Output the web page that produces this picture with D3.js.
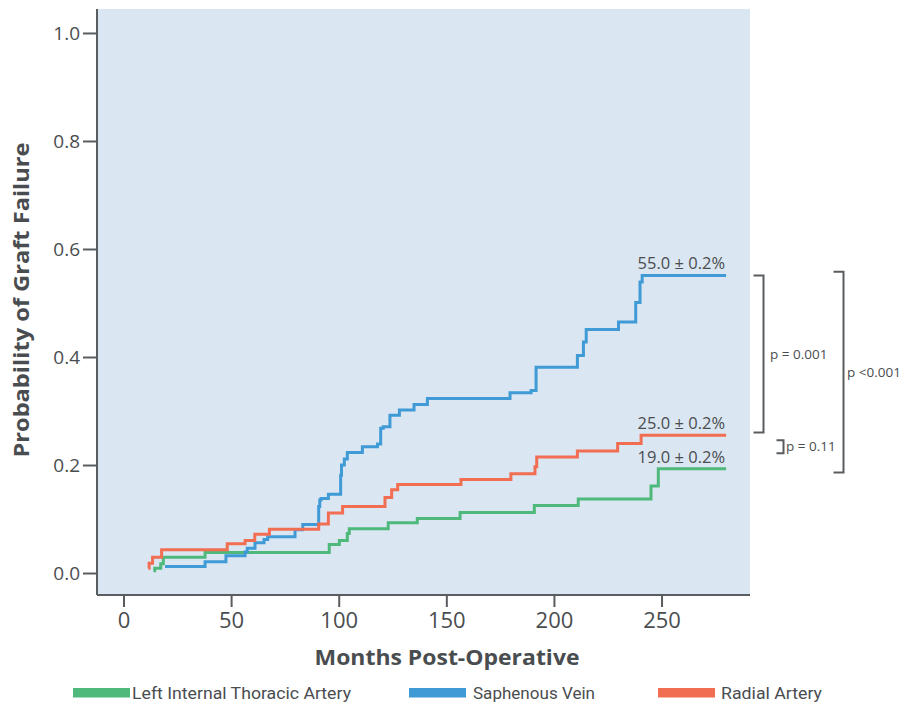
<!DOCTYPE html>
<html>
<head>
<meta charset="utf-8">
<script src="https://cdn.jsdelivr.net/npm/d3@7"></script>
<style>
  html, body { margin: 0; padding: 0; background: #ffffff; }
  svg { display: block; }
</style>
</head>
<body>
<svg id="chart" width="913" height="705"></svg>
<script>
// ---------- DATA ----------
const seriesNames = ["Left Internal Thoracic Artery", "Saphenous Vein", "Radial Artery"];
const seriesColors = ["#4fb97c", "#3f9ad6", "#f26e52"];

// step-after points [month, probability]
const litaPoints = [
  [13.9, 0.004], [14.5, 0.009], [17.3, 0.017], [18.5, 0.029], [37.9, 0.038],
  [95.6, 0.053], [100.3, 0.060], [104.0, 0.073], [104.9, 0.082], [123.0, 0.093],
  [136.5, 0.101], [156.4, 0.112], [190.9, 0.125], [211.3, 0.137], [245.1, 0.161],
  [248.5, 0.193], [280.0, 0.193]
];
const svPoints = [
  [19.3, 0.012], [37.9, 0.021], [47.6, 0.032], [56.5, 0.039], [57.5, 0.046],
  [61.1, 0.056], [65.3, 0.062], [67.0, 0.067], [79.7, 0.080], [83.3, 0.090],
  [90.7, 0.123], [91.2, 0.135], [91.8, 0.138], [95.2, 0.146], [100.9, 0.181],
  [101.3, 0.200], [102.6, 0.211], [104.0, 0.223], [111.0, 0.234], [118.0, 0.239],
  [119.5, 0.268], [120.7, 0.271], [123.8, 0.292], [128.2, 0.302], [135.0, 0.312],
  [141.2, 0.323], [179.6, 0.334], [189.4, 0.338], [191.7, 0.381], [210.9, 0.403],
  [213.7, 0.428], [215.0, 0.451], [230.0, 0.465], [238.0, 0.501], [240.0, 0.539],
  [241.0, 0.551], [280.0, 0.551]
];
const raPoints = [
  [11.5, 0.009], [11.9, 0.018], [13.5, 0.029], [17.7, 0.043], [48.2, 0.054],
  [56.5, 0.060], [61.0, 0.072], [67.8, 0.081], [90.7, 0.091], [95.2, 0.111],
  [101.8, 0.123], [121.5, 0.140], [124.6, 0.154], [127.4, 0.164], [156.8, 0.173],
  [180.0, 0.184], [191.2, 0.197], [192.0, 0.215], [210.9, 0.226], [229.6, 0.240],
  [240.5, 0.255], [280.0, 0.255]
];

const xTicks = [0, 50, 100, 150, 200, 250];
const yTicks = [0.0, 0.2, 0.4, 0.6, 0.8, 1.0];

// end labels: [text, anchor value]
const endLabels = ["55.0 ± 0.2%", "25.0 ± 0.2%", "19.0 ± 0.2%"];
const endLabelValues = [0.551, 0.255, 0.193];

// brackets: [top value, bottom value, label]
const bracketTops = [0.551, 0.558, 0.246];
const bracketBottoms = [0.260, 0.186, 0.222];
const bracketLabels = ["p = 0.001", "p <0.001", "p = 0.11"];

// ---------- LAYOUT ----------
const svg = d3.select("#chart");
const plot = { left: 97, right: 750, top: 9, bottom: 595 };

const x = d3.scaleLinear().domain([-12.31, 291.1]).range([plot.left, plot.right]);
const y = d3.scaleLinear().domain([-0.0407, 1.0444]).range([plot.bottom, plot.top]);

const axisColor = "#5a5d60";
const textColor = "#4a4d50";
const font = "'Open Sans', 'Noto Sans', sans-serif";

// background
svg.append("rect")
  .attr("x", plot.left).attr("y", plot.top)
  .attr("width", plot.right - plot.left).attr("height", plot.bottom - plot.top)
  .attr("fill", "#dae6f2");

// axes
const yAxis = svg.append("g")
  .attr("transform", `translate(${plot.left},0)`)
  .call(d3.axisLeft(y).tickValues(yTicks).tickFormat(d3.format(".1f")).tickSize(14).tickPadding(3).tickSizeOuter(0));
yAxis.select(".domain").attr("stroke", axisColor).attr("stroke-width", 2)
  .attr("d", `M0,${plot.top}V${plot.bottom}`);
yAxis.selectAll(".tick line").attr("stroke", axisColor).attr("stroke-width", 2);
yAxis.selectAll(".tick text").attr("fill", textColor).attr("font-size", 19).attr("font-family", font);

const xAxis = svg.append("g")
  .attr("transform", `translate(0,${plot.bottom})`)
  .call(d3.axisBottom(x).tickValues(xTicks).tickFormat(d3.format("d")).tickSize(12).tickPadding(5).tickSizeOuter(0));
xAxis.select(".domain").attr("stroke", axisColor).attr("stroke-width", 2)
  .attr("d", `M${plot.left},0H${plot.right}`);
xAxis.selectAll(".tick line").attr("stroke", axisColor).attr("stroke-width", 2);
xAxis.selectAll(".tick text").attr("fill", textColor).attr("font-size", 22).attr("font-family", font);

// axis titles
svg.append("text")
  .attr("x", 447).attr("y", 665)
  .attr("text-anchor", "middle")
  .attr("font-family", font).attr("font-weight", "bold").attr("font-size", 22)
  .attr("fill", textColor)
  .attr("textLength", 265).attr("lengthAdjust", "spacingAndGlyphs")
  .text("Months Post-Operative");

svg.append("text")
  .attr("transform", "translate(29,300) rotate(-90)")
  .attr("text-anchor", "middle")
  .attr("font-family", font).attr("font-weight", "bold").attr("font-size", 22)
  .attr("fill", textColor)
  .attr("textLength", 315).attr("lengthAdjust", "spacingAndGlyphs")
  .text("Probability of Graft Failure");

// curves
const line = d3.line().x(d => x(d[0])).y(d => y(d[1])).curve(d3.curveStepAfter);
const allSeries = [litaPoints, svPoints, raPoints];
allSeries.forEach((pts, i) => {
  svg.append("path")
    .datum(pts)
    .attr("fill", "none")
    .attr("stroke", seriesColors[i])
    .attr("stroke-width", 3)
    .attr("d", line);
});

// end labels
const endX = x(280);
endLabels.forEach((t, i) => {
  svg.append("text")
    .attr("x", endX - 1).attr("y", y(endLabelValues[i]) - 6)
    .attr("text-anchor", "end")
    .attr("font-family", font).attr("font-size", 16.5)
    .attr("fill", textColor)
    .text(t);
});

// brackets
const bracketX = [763.5, 843.5, 783.5];
const bracketArm = [10, 10, 7];
const labelX = [770, 847, 786];
bracketLabels.forEach((t, i) => {
  const y0 = y(bracketTops[i]), y1 = y(bracketBottoms[i]);
  const bx = bracketX[i], a = bracketArm[i];
  svg.append("path")
    .attr("d", `M${bx - a},${y0}H${bx}V${y1}H${bx - a}`)
    .attr("fill", "none").attr("stroke", axisColor).attr("stroke-width", 2);
  svg.append("text")
    .attr("x", labelX[i]).attr("y", (y0 + y1) / 2)
    .attr("dy", "0.35em")
    .attr("font-family", font).attr("font-size", 13.5)
    .attr("fill", textColor)
    .text(t);
});

// legend
const legendSwatchX = [73, 409, 658];
const legendTextX = [132, 473, 721];
const legendTextW = [219, 122, 101];
seriesNames.forEach((name, i) => {
  svg.append("rect")
    .attr("x", legendSwatchX[i]).attr("y", 688)
    .attr("width", 57).attr("height", 9.5)
    .attr("fill", seriesColors[i]);
  svg.append("text")
    .attr("x", legendTextX[i]).attr("y", 699)
    .attr("font-family", "'Liberation Sans Narrow', 'Roboto', sans-serif").attr("font-size", 17)
    .attr("fill", textColor)
    .attr("textLength", legendTextW[i]).attr("lengthAdjust", "spacingAndGlyphs")
    .text(name);
});
</script>
</body>
</html>
